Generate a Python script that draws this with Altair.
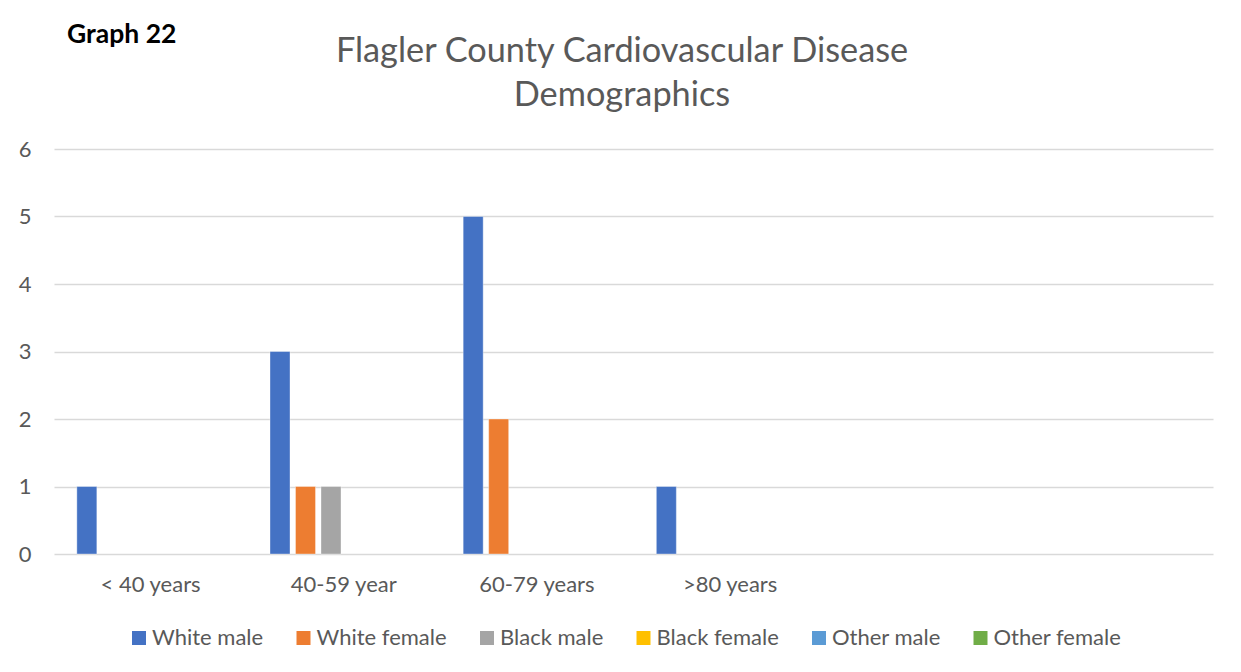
import altair as alt
import pandas as pd

age_groups = ["< 40 years", "40-59 year", "60-79 years", ">80 years", " ", "  "]
series = ["White male", "White female", "Black male", "Black female", "Other male", "Other female"]
colors = ["#4472C4", "#ED7D31", "#A5A5A5", "#FFC000", "#5B9BD5", "#70AD47"]

white_male = [1, 3, 5, 1, 0, 0]
white_female = [0, 1, 2, 0, 0, 0]
black_male = [0, 1, 0, 0, 0, 0]
black_female = [0, 0, 0, 0, 0, 0]
other_male = [0, 0, 0, 0, 0, 0]
other_female = [0, 0, 0, 0, 0, 0]

title_lines = ["Flagler County Cardiovascular Disease", "Demographics"]
graph_label = ["Graph 22"]

values = [white_male, white_female, black_male, black_female, other_male, other_female]
rows = []
for s, vals in zip(series, values):
    for g, v in zip(age_groups, vals):
        rows.append({"group": g, "series": s, "count": v})
df = pd.DataFrame(rows)

FONT = "Lato"
GREY = "#595959"

bars = alt.Chart(df).transform_filter("datum.count > 0").mark_bar(
    stroke="white", strokeWidth=0.6, strokeOpacity=0.6
).encode(
    x=alt.X("group:N", sort=age_groups, title=None,
            scale=alt.Scale(domain=age_groups, paddingInner=0, paddingOuter=0),
            axis=alt.Axis(labelAngle=0, domain=False, ticks=False, labelPadding=20,
                          labelFont=FONT, labelFontSize=22, labelColor=GREY)),
    xOffset=alt.XOffset("series:N", sort=series,
                        scale=alt.Scale(domain=series, paddingInner=0.216, paddingOuter=0.896)),
    y=alt.Y("count:Q", title=None,
            scale=alt.Scale(domain=[0, 6]),
            axis=alt.Axis(values=[0, 1, 2, 3, 4, 5, 6], domain=False, ticks=False, grid=True,
                          gridColor="#D9D9D9", gridWidth=1.5, labelPadding=23,
                          labelFont=FONT, labelFontSize=22, labelColor=GREY)),
    color=alt.Color("series:N", sort=series,
                    scale=alt.Scale(domain=series, range=colors),
                    legend=alt.Legend(title=None, orient="none", legendX=74, legendY=478,
                                      direction="horizontal", symbolType="square",
                                      symbolSize=196, symbolStrokeWidth=0,
                                      labelFont=FONT, labelFontSize=22, labelColor=GREY,
                                      columnPadding=28.5, labelOffset=2)),
)

label = alt.Chart(pd.DataFrame({"t": graph_label})).mark_text(
    font=FONT, fontSize=26.5, fontWeight="bold", color="black", align="left", baseline="alphabetic"
).encode(text="t:N", x=alt.value(13), y=alt.value(-106))

title = alt.Chart(pd.DataFrame({"t": ["\n".join(title_lines)]})).mark_text(
    font=FONT, fontSize=34.3, color=GREY, align="center", baseline="alphabetic",
    lineBreak="\n", lineHeight=43.5
).encode(text="t:N", x=alt.value(568), y=alt.value(-87))

chart = alt.layer(bars, label, title).properties(
    width=1159, height=405,
    background="white",
    autosize=alt.AutoSizeParams(type="none"),
    padding={"left": 46, "top": 141, "right": 20, "bottom": 110},
).configure_view(stroke="transparent", strokeWidth=0)

chart.save("out.html", embed_options={"renderer": "svg", "actions": False})
